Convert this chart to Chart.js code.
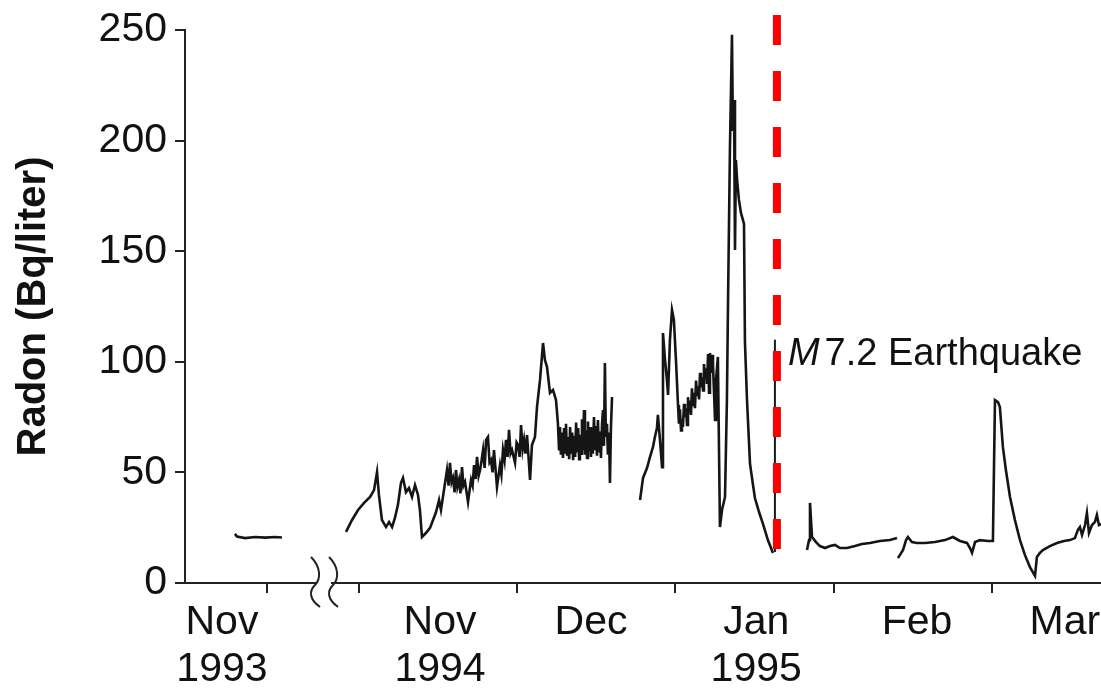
<!DOCTYPE html>
<html>
<head>
<meta charset="utf-8">
<script src="https://cdn.jsdelivr.net/npm/chart.js@4.4.1/dist/chart.umd.min.js"></script>
<style>
  html, body { margin: 0; padding: 0; background: #fff; }
  #wrap { width: 1101px; height: 691px; }
</style>
</head>
<body>
<div id="wrap"><canvas id="radon" width="1101" height="691"></canvas></div>
<script>
// x is measured in months after 1 Nov 1994 (the part left of the break is Nov 1993)
const nov93X = [-0.784, -0.771, -0.720, -0.657, -0.594, -0.531, -0.487];
const nov93Y = [22.2, 21.0, 20.3, 20.8, 20.5, 20.8, 20.6];

const fallX = [-0.082, -0.044, -0.006, 0.032, 0.070, 0.095, 0.114, 0.126, 0.145, 0.171,
  0.190, 0.209, 0.227, 0.246, 0.265, 0.278, 0.297, 0.316, 0.335, 0.354,
  0.373, 0.385, 0.398, 0.423, 0.449, 0.468, 0.487, 0.506, 0.518, 0.537,
  0.556, 0.566, 0.575, 0.585, 0.594, 0.604, 0.613, 0.622, 0.632, 0.641, 0.651, 0.660, 0.670, 0.689, 0.708, 0.718, 0.727,
  0.737, 0.746, 0.756, 0.765, 0.775, 0.784, 0.794, 0.803, 0.815, 0.825, 0.834, 0.844, 0.853, 0.872, 0.891, 0.900, 0.910,
  0.920, 0.929, 0.939, 0.948, 0.958, 0.967, 0.986, 0.996, 1.005, 1.015, 1.024, 1.034, 1.043, 1.052, 1.062, 1.081, 1.093,
  1.112, 1.125, 1.144, 1.163, 1.175, 1.188, 1.207, 1.226, 1.245,
  1.257, 1.264, 1.270, 1.276, 1.283, 1.289, 1.296, 1.302, 1.308, 1.315,
  1.321, 1.328, 1.334, 1.340, 1.347, 1.353, 1.359, 1.366, 1.372, 1.378,
  1.385, 1.391, 1.396, 1.403, 1.409, 1.415, 1.422, 1.428, 1.434, 1.441,
  1.447, 1.453, 1.460, 1.466, 1.472, 1.478, 1.485, 1.491, 1.497, 1.504,
  1.510, 1.516, 1.523, 1.529, 1.536, 1.542, 1.548, 1.554, 1.560, 1.567,
  1.573, 1.580, 1.586, 1.592, 1.599];
const fallY = [23.1, 28.5, 33.0, 36.2, 38.9, 42.0, 50.2, 39.8, 28.5, 25.3,
  27.6, 25.3, 29.4, 35.3, 45.2, 47.5, 41.1, 42.9, 38.9, 44.3,
  39.8, 33.0, 20.8, 22.6, 24.9, 28.5, 32.1, 37.5, 33.0, 42.0,
  51.1, 44.0, 54.3, 45.5, 47.5, 41.0, 51.1, 43.5, 46.6, 40.5, 52.4, 44.0, 45.7, 36.6, 46.6, 44.0, 53.3,
  47.0, 57.0, 48.5, 51.1, 55.5, 60.1, 52.0, 64.7, 66.0, 54.5, 55.6, 50.0, 60.1, 43.4, 53.3, 49.0, 60.1,
  55.5, 64.7, 57.0, 69.2, 58.5, 60.1, 54.3, 63.5, 62.4, 57.0, 71.4, 60.5, 64.7, 58.5, 66.9, 46.6, 62.4,
  66.0, 79.6, 91.8, 108.5, 100.8, 97.7, 85.9, 87.3, 82.7,
  72.3, 60.5, 70.5, 58.0, 68.0, 56.5, 70.0, 59.0, 72.0, 57.5,
  66.0, 56.0, 70.5, 58.5, 68.0, 55.5, 66.5, 57.0, 72.5, 59.0,
  70.0, 56.0, 67.0, 58.5, 74.0, 60.0, 78.2, 58.0, 69.0, 56.5,
  73.0, 59.5, 70.5, 57.0, 68.0, 58.5, 75.0, 60.0, 71.0, 57.5,
  73.7, 59.0, 68.5, 56.5, 72.0, 78.2, 62.0, 99.5, 66.0, 72.0,
  58.0, 68.0, 45.2, 70.0, 84.1];

const janX = [1.776, 1.795, 1.820, 1.839, 1.858, 1.870, 1.883, 1.889, 1.902, 1.915,
  1.921, 1.934, 1.946, 1.953, 1.965, 1.978, 1.990, 2.003, 2.016,
  2.022, 2.028, 2.035, 2.041, 2.047, 2.054, 2.060, 2.066, 2.073, 2.079,
  2.085, 2.092, 2.098, 2.104, 2.111, 2.117, 2.123, 2.130, 2.136, 2.142,
  2.149, 2.155, 2.161, 2.168, 2.174, 2.180, 2.187, 2.193, 2.199, 2.206,
  2.212, 2.218, 2.224, 2.231, 2.237, 2.250, 2.256, 2.268, 2.281, 2.294, 2.313,
  2.325, 2.332, 2.344, 2.357, 2.363, 2.370, 2.376, 2.382, 2.389, 2.401,
  2.414, 2.433, 2.439, 2.452, 2.471, 2.490, 2.502, 2.528, 2.553, 2.584, 2.616];
const janY = [37.5, 47.5, 52.0, 57.0, 61.5, 66.0, 70.1, 76.0, 64.7, 52.4,
  113.0, 100.8, 91.8, 85.0, 109.9, 123.4, 118.9, 100.8, 80.5,
  72.0, 78.5, 69.0, 74.0, 70.5, 81.0, 75.0, 79.0, 71.5, 84.0,
  77.0, 82.5, 76.0, 88.0, 80.5, 86.0, 79.0, 91.5, 85.0, 89.0,
  83.0, 95.0, 88.5, 93.0, 87.0, 99.0, 92.5, 97.0, 90.0, 103.5,
  86.0, 104.0, 95.0, 103.1, 98.6, 73.7, 91.8, 102.2, 25.3, 33.0, 38.9,
  82.7, 126.6, 195.8, 247.8, 204.3, 218.4, 150.5, 191.2, 182.6, 173.2,
  167.3, 162.3, 109.0, 82.7, 53.8, 44.3, 38.4, 32.1, 26.7, 19.4, 13.6];

const febX = [2.831, 2.844, 2.850, 2.863, 2.888, 2.913, 2.945, 2.976, 3.008, 3.039,
  3.084, 3.134, 3.178, 3.229, 3.292, 3.355, 3.400];
const febY = [14.9, 19.4, 36.2, 20.8, 18.5, 16.7, 15.8, 16.7, 17.2, 15.8,
  15.8, 16.7, 17.6, 18.1, 19.0, 19.4, 20.3];

const marX = [3.406, 3.419, 3.438, 3.457, 3.469, 3.494, 3.526, 3.577, 3.640, 3.703,
  3.753, 3.798, 3.842, 3.861, 3.874, 3.893, 3.924, 3.975, 4.006, 4.019,
  4.038, 4.050, 4.069, 4.088, 4.114, 4.145, 4.177, 4.208, 4.240, 4.272,
  4.284, 4.303, 4.322, 4.366, 4.411, 4.455, 4.493, 4.524, 4.543, 4.556,
  4.569, 4.588, 4.600, 4.613, 4.632, 4.651, 4.663, 4.676, 4.689];
const marY = [11.3, 12.7, 14.9, 19.4, 20.8, 18.5, 18.1, 18.1, 18.5, 19.4,
  20.8, 19.0, 18.1, 15.8, 13.6, 18.5, 19.4, 19.0, 19.0, 82.7,
  81.8, 79.6, 61.5, 51.1, 38.9, 28.5, 19.4, 12.7, 7.2, 3.2,
  11.8, 13.6, 14.9, 16.7, 18.1, 19.0, 19.4, 20.3, 24.0, 25.3,
  21.7, 26.2, 31.6, 22.6, 26.2, 27.6, 30.7, 26.2, 26.7];

const tickPos = [-0.581, 0, 1, 2, 3, 4];
const labelPos = [-0.866, 0.512, 1.466, 2.51, 3.526, 4.461];
const monthLabels = [['Nov', '1993'], ['Nov', '1994'], 'Dec', ['Jan', '1995'], 'Feb', 'Mar'];
const yTicks = [0, 50, 100, 150, 200, 250];

const X_MIN = -1.0995;
const X_MAX = 4.689;
const breakAt = [-0.278, -0.164];
const quakeAt = 2.641;
const quakeMark = [110, 14];
const quakeLineBottom = 13.5;
const quakeText = { y: 98.6, italic: 'M', rest: '7.2 Earthquake' };

const FONT = "'Liberation Sans', Arial, Helvetica, sans-serif";
Chart.defaults.font.family = FONT;

function seg(xs, ys) {
  return xs.map((x, i) => ({ x: x, y: ys[i] }));
}
function gapAfter(xs) {
  return { x: xs[xs.length - 1], y: null };
}

const points = [].concat(
  seg(nov93X, nov93Y), [gapAfter(nov93X)],
  seg(fallX, fallY), [gapAfter(fallX)],
  seg(janX, janY), [gapAfter(janX)],
  seg(febX, febY), [gapAfter(febX)],
  seg(marX, marY)
);

const quakePlugin = {
  id: 'quake',
  afterDatasetsDraw(chart) {
    const { ctx, chartArea, scales: { x, y } } = chart;
    const px = x.getPixelForValue(quakeAt);
    ctx.save();
    // original black marker under the red line
    ctx.strokeStyle = '#1a1a1a';
    ctx.lineWidth = 2;
    ctx.beginPath();
    ctx.moveTo(px - 2, y.getPixelForValue(quakeMark[0]));
    ctx.lineTo(px - 2, y.getPixelForValue(quakeMark[1]));
    ctx.stroke();

    ctx.strokeStyle = '#ff0000';
    ctx.lineWidth = 8;
    ctx.lineCap = 'butt';
    ctx.setLineDash([30, 26]);
    ctx.beginPath();
    ctx.moveTo(px, chartArea.top - 15);
    ctx.lineTo(px, y.getPixelForValue(quakeLineBottom));
    ctx.stroke();
    ctx.setLineDash([]);

    const ty = y.getPixelForValue(quakeText.y);
    ctx.fillStyle = '#111';
    ctx.textBaseline = 'alphabetic';
    ctx.textAlign = 'left';
    ctx.font = 'italic 38px ' + FONT;
    ctx.fillText(quakeText.italic, px + 11, ty);
    const w = ctx.measureText(quakeText.italic).width;
    ctx.font = '38px ' + FONT;
    ctx.fillText(quakeText.rest, px + 11 + w + 5, ty);
    ctx.restore();
  }
};

const breakPlugin = {
  id: 'axisBreak',
  afterDraw(chart) {
    const { ctx, scales: { x } } = chart;
    const y0 = x.top;
    const xa = x.getPixelForValue(breakAt[0]);
    const xb = x.getPixelForValue(breakAt[1]);
    ctx.save();
    ctx.fillStyle = '#fff';
    ctx.fillRect(xa + 2, y0 - 3, xb - xa - 4, 6);
    ctx.strokeStyle = '#222';
    ctx.lineWidth = 2;
    [xa, xb].forEach(p => {
      ctx.beginPath();
      ctx.moveTo(p - 4, y0 - 26);
      ctx.bezierCurveTo(p + 6, y0 - 16, p + 6, y0 - 4, p, y0 + 2);
      ctx.bezierCurveTo(p - 6, y0 + 8, p - 6, y0 + 16, p + 5, y0 + 24);
      ctx.stroke();
    });
    ctx.restore();
  }
};

new Chart(document.getElementById('radon'), {
  type: 'line',
  data: {
    datasets: [{
      data: points,
      borderColor: '#151515',
      borderWidth: 2.6,
      pointRadius: 0,
      tension: 0,
      spanGaps: false,
      fill: false,
    }],
  },
  options: {
    responsive: false,
    animation: false,
    layout: { padding: { top: 30, right: 0, bottom: 0, left: 0 } },
    plugins: { legend: { display: false }, tooltip: { enabled: false } },
    scales: {
      x: {
        type: 'linear',
        min: X_MIN,
        max: X_MAX,
        position: 'bottom',
        weight: 0,
        afterBuildTicks: s => { s.ticks = tickPos.map(v => ({ value: v })); },
        ticks: { display: false },
        grid: { drawOnChartArea: false, tickLength: 10, color: '#222', lineWidth: 2 },
        border: { color: '#222', width: 2 },
        afterFit: s => { s.paddingLeft = 0; s.paddingRight = 0; s.height = 10; },
      },
      xl: {
        type: 'linear',
        min: X_MIN,
        max: X_MAX,
        position: 'bottom',
        weight: 1,
        grid: { display: false, drawTicks: false },
        border: { display: false },
        afterBuildTicks: s => { s.ticks = labelPos.map(v => ({ value: v })); },
        ticks: {
          autoSkip: false,
          maxRotation: 0,
          padding: 6,
          color: '#111',
          font: { size: 41, lineHeight: 1.146 },
          callback: (v, i) => monthLabels[i],
        },
        afterFit: s => { s.paddingLeft = 0; s.paddingRight = 0; s.height = 98; },
      },
      y: {
        min: 0,
        max: 250,
        afterBuildTicks: s => { s.ticks = yTicks.map(v => ({ value: v })); },
        ticks: { color: '#111', padding: 8, font: { size: 41 } },
        grid: { drawOnChartArea: false, tickLength: 10, color: '#222', lineWidth: 2 },
        border: { color: '#222', width: 2 },
        title: {
          display: true,
          text: 'Radon (Bq/liter)',
          color: '#111',
          font: { size: 40, weight: 'bold' },
          padding: { top: 10, bottom: 0 },
        },
        afterFit: s => { s.width = 185; s.paddingTop = 0; s.paddingBottom = 0; },
      },
    },
  },
  plugins: [quakePlugin, breakPlugin],
});
</script>
</body>
</html>
